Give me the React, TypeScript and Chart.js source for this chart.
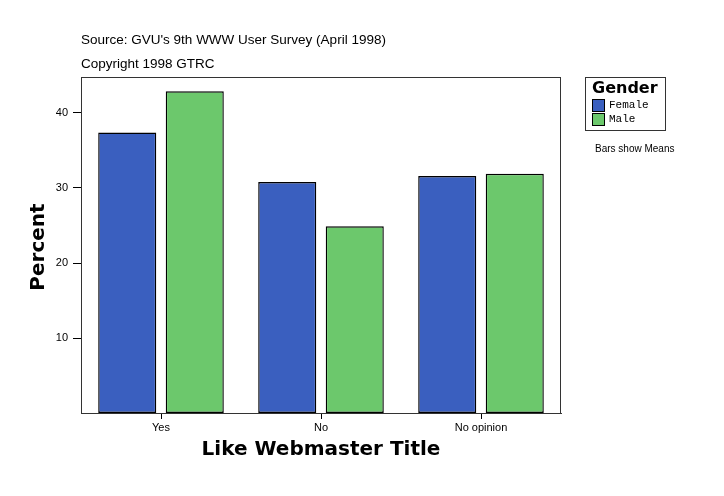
import { useEffect, useRef } from 'react'
import { Chart, registerables } from 'chart.js'

Chart.register(...registerables)

const categories = ['Yes', 'No', 'No opinion']
const femaleValues = [37.4, 30.8, 31.6]
const maleValues = [42.9, 24.9, 31.9]
const yTicks = [10, 20, 30, 40]

const sourceText = "Source: GVU's 9th WWW User Survey (April 1998)"
const copyrightText = 'Copyright 1998 GTRC'

const BLUE = '#3a5fbf'
const GREEN = '#6cc86c'

const decorations = {
  id: 'decorations',
  afterDraw(chart: Chart) {
    const { ctx, chartArea } = chart
    ctx.save()

    // box round the plot
    ctx.strokeStyle = '#333'
    ctx.lineWidth = 1
    ctx.strokeRect(chartArea.left + 0.5, chartArea.top + 0.5, chartArea.right - chartArea.left - 1, chartArea.bottom - chartArea.top)

    // header lines
    ctx.fillStyle = '#000'
    ctx.textBaseline = 'middle'
    ctx.textAlign = 'left'
    ctx.font = '13.5px "Liberation Sans", Arial, sans-serif'
    ctx.fillText(sourceText, 81, 40)
    ctx.fillText(copyrightText, 81, 64)

    // axis titles
    ctx.font = 'bold 20px "DejaVu Sans", sans-serif'
    ctx.textAlign = 'center'
    ctx.fillText('Like Webmaster Title', 321, 450)
    ctx.save()
    ctx.translate(39, 247)
    ctx.rotate(-Math.PI / 2)
    ctx.fillText('Percent', 0, 0)
    ctx.restore()

    // legend
    ctx.strokeStyle = '#333'
    ctx.strokeRect(585.5, 77.5, 80, 53)
    ctx.font = 'bold 16px "DejaVu Sans", sans-serif'
    ctx.textAlign = 'left'
    ctx.fillText('Gender', 592, 89)
    const items: [string, string, number][] = [['Female', BLUE, 99], ['Male', GREEN, 113]]
    ctx.font = '11px "Liberation Mono", "DejaVu Sans Mono", monospace'
    for (const [label, color, y] of items) {
      ctx.fillStyle = color
      ctx.fillRect(592, y, 13, 12)
      ctx.strokeStyle = '#000'
      ctx.strokeRect(592.5, y + 0.5, 12, 12)
      ctx.fillStyle = '#000'
      ctx.fillText(label, 609, y + 6)
    }
    ctx.font = '10px "Liberation Sans", Arial, sans-serif'
    ctx.fillText('Bars show Means', 595, 149)

    ctx.restore()
  }
}

export default function App() {
  const chartRef = useRef<HTMLCanvasElement>(null)
  const chartInstance = useRef<Chart | null>(null)

  useEffect(() => {
    if (!chartRef.current) return
    if (chartInstance.current) chartInstance.current.destroy()
    const ctx = chartRef.current.getContext('2d')
    if (!ctx) return

    chartInstance.current = new Chart(ctx, {
      type: 'bar',
      data: {
        labels: categories,
        datasets: [
          {
            label: 'Female',
            data: femaleValues,
            backgroundColor: BLUE,
            borderColor: '#000',
            borderWidth: 1.4,
            borderSkipped: false,
            categoryPercentage: 0.844,
            barPercentage: 0.86
          },
          {
            label: 'Male',
            data: maleValues,
            backgroundColor: GREEN,
            borderColor: '#000',
            borderWidth: 1.4,
            borderSkipped: false,
            categoryPercentage: 0.844,
            barPercentage: 0.86
          }
        ]
      },
      options: {
        responsive: false,
        animation: false,
        layout: { padding: { top: 77, right: 163, left: 0, bottom: 0 } },
        plugins: {
          legend: { display: false },
          tooltip: { enabled: false }
        },
        scales: {
          x: {
            grid: { offset: false, drawOnChartArea: false, tickLength: 6, color: '#000' },
            border: { color: '#333' },
            ticks: { color: '#000', font: { family: '"Liberation Sans", Arial, sans-serif', size: 11 }, padding: 2 },
            afterFit: (scale: any) => { scale.height = 83 }
          },
          y: {
            min: 0,
            max: 44.8,
            afterBuildTicks: (scale: any) => { scale.ticks = yTicks.map(v => ({ value: v })) },
            grid: { drawOnChartArea: false, tickLength: 8, color: '#000' },
            border: { color: '#333' },
            ticks: { color: '#000', font: { family: '"Liberation Sans", Arial, sans-serif', size: 11 }, padding: 5 },
            afterFit: (scale: any) => { scale.width = 81 }
          }
        }
      },
      plugins: [decorations]
    })

    return () => {
      if (chartInstance.current) {
        chartInstance.current.destroy()
        chartInstance.current = null
      }
    }
  }, [])

  return (
    <div style={{ position: 'fixed', left: 0, top: 0, width: 724, height: 496, background: '#fff' }}>
      <canvas ref={chartRef} width={724} height={496} style={{ width: 724, height: 496 }} />
    </div>
  )
}
